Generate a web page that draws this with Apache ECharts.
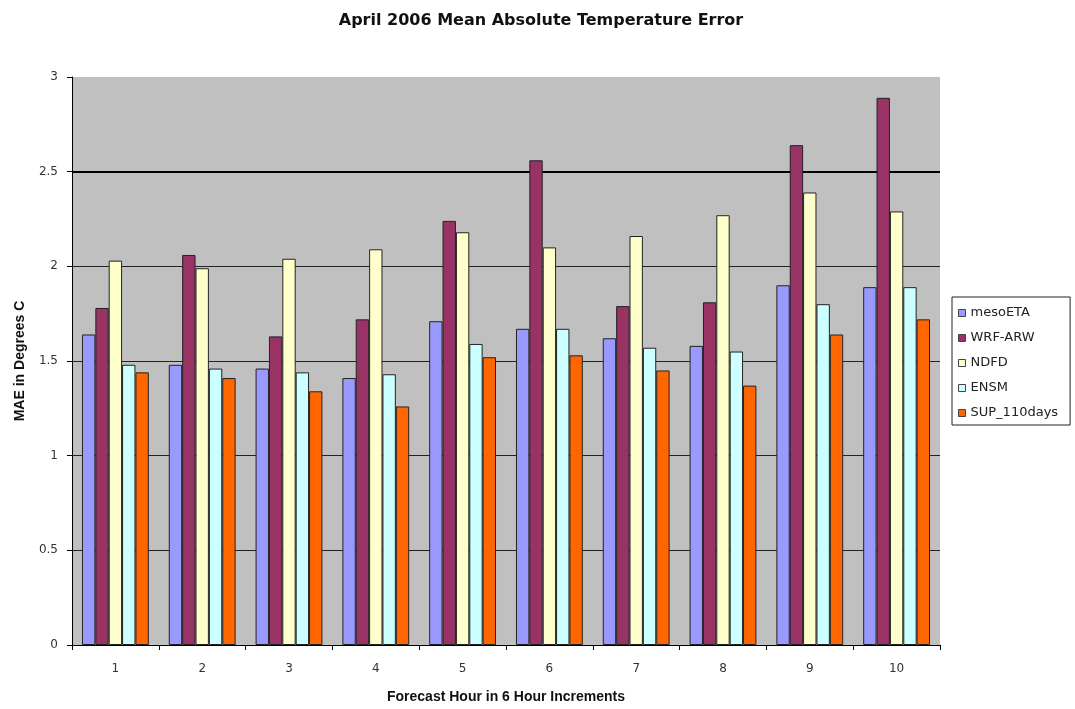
<!DOCTYPE html>
<html>
<head>
<meta charset="utf-8">
<script src="https://cdn.jsdelivr.net/npm/echarts@6/dist/echarts.min.js"></script>
<style>
  html, body { margin: 0; padding: 0; background: #fff; }
  #chart { width: 1075px; height: 709px; }
</style>
</head>
<body>
<div id="chart"></div>
<script>
// Forecast hours (6-hour increments)
const categories = ['1', '2', '3', '4', '5', '6', '7', '8', '9', '10'];

// Mean absolute temperature error (°C) per model
const mesoETA   = [1.64, 1.48, 1.46, 1.41, 1.71, 1.67, 1.62, 1.58, 1.90, 1.89];
const wrfARW    = [1.78, 2.06, 1.63, 1.72, 2.24, 2.56, 1.79, 1.81, 2.64, 2.89];
const ndfd      = [2.03, 1.99, 2.04, 2.09, 2.18, 2.10, 2.16, 2.27, 2.39, 2.29];
const ensm      = [1.48, 1.46, 1.44, 1.43, 1.59, 1.67, 1.57, 1.55, 1.80, 1.89];
const sup110    = [1.44, 1.41, 1.34, 1.26, 1.52, 1.53, 1.45, 1.37, 1.64, 1.72];

const seriesNames = ['mesoETA', 'WRF-ARW', 'NDFD', 'ENSM', 'SUP_110days'];
const seriesData = [mesoETA, wrfARW, ndfd, ensm, sup110];
const seriesColors = ['#9999FF', '#993366', '#FFFFCC', '#CCFFFF', '#FF6600'];

// Heavier reference line drawn over the 2.5 gridline
const refLineValue = 2.5;

const wideFont = 'DejaVu Sans, Verdana, sans-serif';
const axisFont = 'Liberation Sans, Arial, sans-serif';

const chart = echarts.init(document.getElementById('chart'), null, { renderer: 'canvas' });

chart.setOption({
  animation: false,
  backgroundColor: '#ffffff',
  title: {
    text: 'April 2006 Mean Absolute Temperature Error',
    left: 536,
    textAlign: 'center',
    top: 8,
    textStyle: { fontFamily: wideFont, fontSize: 16, fontWeight: 'bold', color: '#111' }
  },
  legend: {
    orient: 'vertical',
    left: 952,
    top: 297,
    itemWidth: 7,
    itemHeight: 7,
    itemGap: 11,
    padding: [9, 12, 5, 6],
    borderColor: '#222',
    borderWidth: 1,
    backgroundColor: '#fff',
    icon: 'rect',
    itemStyle: { borderColor: '#444', borderWidth: 1 },
    textStyle: { fontFamily: wideFont, fontSize: 13, lineHeight: 14, color: '#222' },
    data: seriesNames
  },
  grid: {
    left: 72,
    right: 135,
    top: 77,
    bottom: 63,
    show: true,
    backgroundColor: '#C0C0C0',
    borderWidth: 0
  },
  xAxis: {
    type: 'category',
    data: categories,
    name: 'Forecast Hour in 6 Hour Increments',
    nameLocation: 'middle',
    nameGap: 45,
    nameTextStyle: { fontFamily: axisFont, fontSize: 14, fontWeight: 'bold', color: '#111' },
    axisLine: { lineStyle: { color: '#000', width: 1 } },
    axisTick: { show: true, inside: false, length: 5, lineStyle: { color: '#000' } },
    axisLabel: { fontFamily: wideFont, fontSize: 12, color: '#333', margin: 18 },
    splitLine: { show: false }
  },
  yAxis: {
    type: 'value',
    min: 0,
    max: 3,
    interval: 0.5,
    name: 'MAE in Degrees C',
    nameLocation: 'middle',
    nameGap: 45,
    nameRotate: 90,
    nameTextStyle: { fontFamily: axisFont, fontSize: 14, fontWeight: 'bold', color: '#111' },
    axisLine: { show: true, lineStyle: { color: '#000', width: 1 } },
    axisTick: { show: true, inside: false, length: 5, lineStyle: { color: '#000' } },
    axisLabel: { fontFamily: wideFont, fontSize: 12, color: '#333', margin: 14 },
    splitLine: { show: true, showMaxLine: false, lineStyle: { color: '#222', width: 1 } }
  },
  series: seriesNames.map((name, i) => ({
    name: name,
    type: 'bar',
    data: seriesData[i],
    barGap: '0%',
    barCategoryGap: '23%',
    z: 3,
    itemStyle: { color: seriesColors[i], borderColor: '#222', borderWidth: 1 },
    emphasis: { disabled: true },
    markLine: i === 0 ? {
      silent: true,
      symbol: 'none',
      z: 1,
      label: { show: false },
      lineStyle: { color: '#000', width: 2, type: 'solid' },
      data: [{ yAxis: refLineValue }]
    } : undefined
  }))
});
</script>
</body>
</html>
